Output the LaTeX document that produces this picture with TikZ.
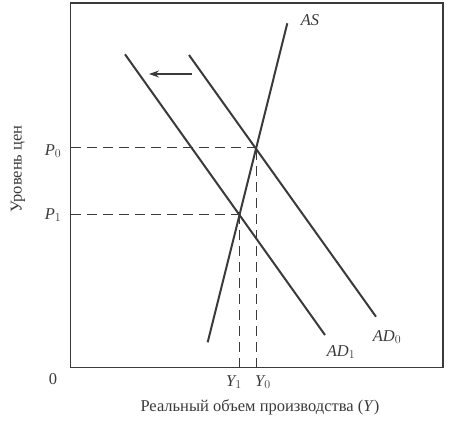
\documentclass[tikz,border=0pt]{standalone}
\usepackage{fontspec}
\setmainfont{Liberation Serif}
\usetikzlibrary{arrows.meta}
\definecolor{ink}{HTML}{3A3A3A}
\begin{document}
\begin{tikzpicture}[x=1pt,y=-1pt,
  curve/.style={draw=ink,line width=2pt},
  frame/.style={draw=ink,line width=1.4pt},
  guide/.style={draw=ink,line width=1.3pt,dash pattern=on 10pt off 6pt},
  lbl/.style={text=ink,font=\fontsize{16.5}{18}\selectfont\itshape,inner sep=0pt},
  txt/.style={text=ink,font=\fontsize{16.5}{18}\selectfont,inner sep=0pt}]
\useasboundingbox (0,0) rectangle (452,421);
\draw[frame] (70.7,3) rectangle (443,367.7);
% curves
\coordinate (ASa) at (207.7,342.3);
\coordinate (ASb) at (287.3,23.3);
\coordinate (AD0a) at (189,55);
\coordinate (AD0b) at (376,316.7);
\coordinate (AD1a) at (125,54.3);
\coordinate (AD1b) at (325,335);
\draw[curve] (ASa) -- (ASb);
\draw[curve] (AD0a) -- (AD0b);
\draw[curve] (AD1a) -- (AD1b);
% shift arrow
\coordinate (Ar0) at (191.7,74);
\coordinate (Ar1) at (149,74);
\draw[curve,-{Stealth[length=10pt,width=7pt]}] (Ar0) -- (Ar1);
% equilibria
\coordinate (E0) at (256.5,147.7);
\coordinate (E1) at (239.5,214.3);
\coordinate (P0a) at (70.7,147.7);
\coordinate (P1a) at (70.7,214.3);
\coordinate (Y0a) at (256.5,367.7);
\coordinate (Y1a) at (239.5,367.7);
\draw[guide] (P0a) -- (E0);
\draw[guide] (P1a) -- (E1);
\draw[guide] (Y0a) -- (E0);
\draw[guide] (Y1a) -- (E1);
% labels
\node[lbl] (lAS) at (310,20) {AS};
\node[lbl] (lAD0) at (387,337) {AD$_0$};
\node[lbl] (lAD1) at (341,352) {AD$_1$};
\node[lbl] (lP0) at (53,151) {P$_0$};
\node[lbl] (lP1) at (53,215) {P$_1$};
\node[lbl] (lY1) at (234,382) {Y$_1$};
\node[lbl] (lY0) at (263,382) {Y$_0$};
\node[txt] (l0) at (53,379) {0};
\node[txt] (lx) at (260,407) {Реальный объем производства (\textit{Y})};
\node[txt,rotate=90,font=\fontsize{16.5}{18}\selectfont] (ly) at (18,169) {Уровень цен};
\end{tikzpicture}
\end{document}
